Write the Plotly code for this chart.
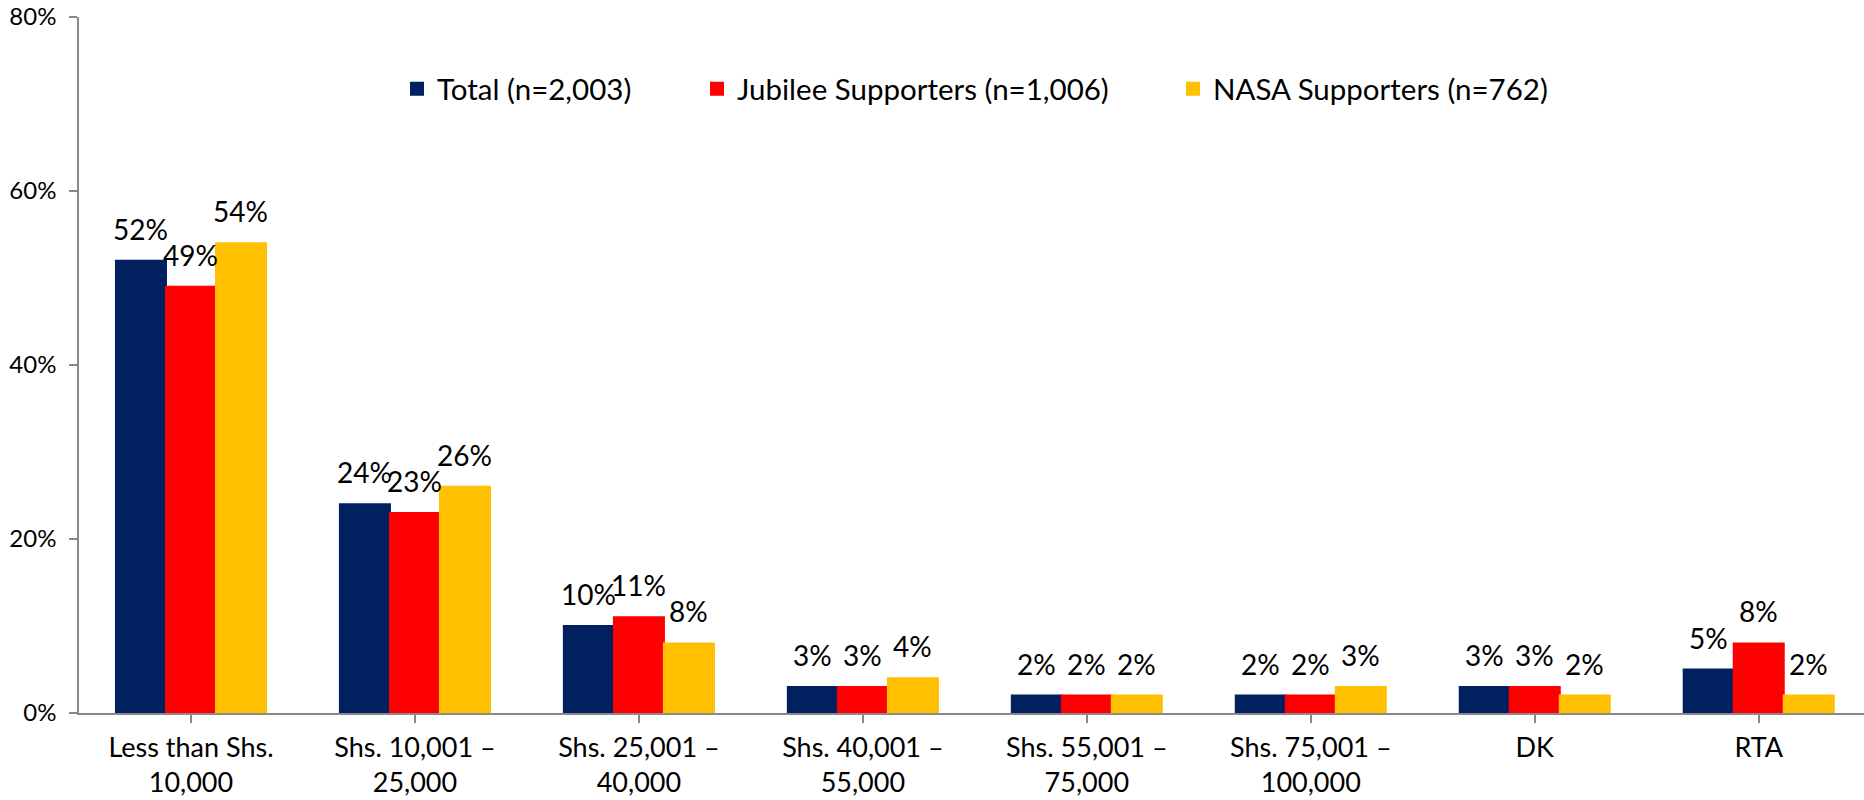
import plotly.graph_objects as go

categories = ["Less than Shs.<br>10,000", "Shs. 10,001 –<br>25,000", "Shs. 25,001 –<br>40,000",
              "Shs. 40,001 –<br>55,000", "Shs. 55,001 –<br>75,000", "Shs. 75,001 –<br>100,000",
              "DK", "RTA"]
total = [52, 24, 10, 3, 2, 2, 3, 5]
jubilee = [49, 23, 11, 3, 2, 2, 3, 8]
nasa = [54, 26, 8, 4, 2, 3, 2, 2]
series_names = ["Total (n=2,003)", "Jubilee Supporters (n=1,006)", "NASA Supporters (n=762)"]
colors = ["#002060", "#FF0000", "#FFC000"]
y_ticks = [0, 20, 40, 60, 80]
y_ticktext = ["0%", "20%", "40%", "60%", "80%"]

FONT = "Lato"
W, H = 1864, 800
ML, MR, MT = 79, 0, 17
AXIS_Y = 713
MB = H - AXIS_Y
plot_h = AXIS_Y - MT
x_range = [-0.5, 7.47]
bargap = 0.33

fig = go.Figure()
legend_ids = ["legend", "legend2", "legend3"]
for vals, name, col, lg in zip([total, jubilee, nasa], series_names, colors, legend_ids):
    fig.add_trace(go.Bar(x=list(range(len(categories))), y=vals, name=name, legend=lg,
                         marker=dict(color=col, line=dict(color=col, width=2))))

# data labels via annotations, offset per series within group
plot_w = W - ML - MR
cat_px = plot_w / (x_range[1] - x_range[0])
bar_px = cat_px * (1 - bargap) / 3
for i, vals in enumerate([total, jubilee, nasa]):
    for j, v in enumerate(vals):
        fig.add_annotation(x=j, y=v, text=f"{v}%", showarrow=False, xref="x", yref="y",
                           xanchor="center", yanchor="bottom", xshift=(i - 1) * bar_px, yshift=13,
                           font=dict(family=FONT, size=28, color="#000000"))

legend_y = (AXIS_Y - 89) / plot_h
legend_common = dict(orientation="h", yanchor="middle", xanchor="left", bgcolor="rgba(0,0,0,0)",
                     font=dict(family=FONT, size=29.5, color="#000000"), borderwidth=0,
                     itemclick=False, itemdoubleclick=False)
fig.update_layout(
    width=W, height=H,
    margin=dict(l=ML, r=MR, t=MT, b=MB, autoexpand=False),
    paper_bgcolor="white", plot_bgcolor="white",
    barmode="group", bargap=bargap, bargroupgap=0,
    showlegend=True,
    legend=dict(x=(397 - ML) / plot_w, y=legend_y, **legend_common),
    legend2=dict(x=(697 - ML) / plot_w, y=legend_y, **legend_common),
    legend3=dict(x=(1173 - ML) / plot_w, y=legend_y, **legend_common),
    xaxis=dict(tickmode="array", tickvals=list(range(len(categories))), ticktext=categories,
               range=x_range, showline=True, linecolor="#898989", linewidth=1.5, automargin=False,
               ticks="outside", ticklen=8, tickcolor="#898989", tickwidth=1.5, tickson="boundaries",
               showgrid=False, zeroline=False, ticklabelstandoff=2,
               tickfont=dict(family=FONT, size=27, color="#000000")),
    yaxis=dict(range=[0, 80.01], tickmode="array", tickvals=y_ticks, ticktext=y_ticktext,
               showline=True, linecolor="#898989", automargin=False, ticklabeloverflow="allow",
               linewidth=1.5, ticks="outside", ticklen=8, tickcolor="#898989", tickwidth=1.5,
               showgrid=False, zeroline=False, ticklabelstandoff=8,
               tickfont=dict(family=FONT, size=24, color="#000000")),
)

fig.write_html("out.html", config={"displayModeBar": False},
               post_script="document.body.style.margin='0';document.body.style.overflow='hidden';")
